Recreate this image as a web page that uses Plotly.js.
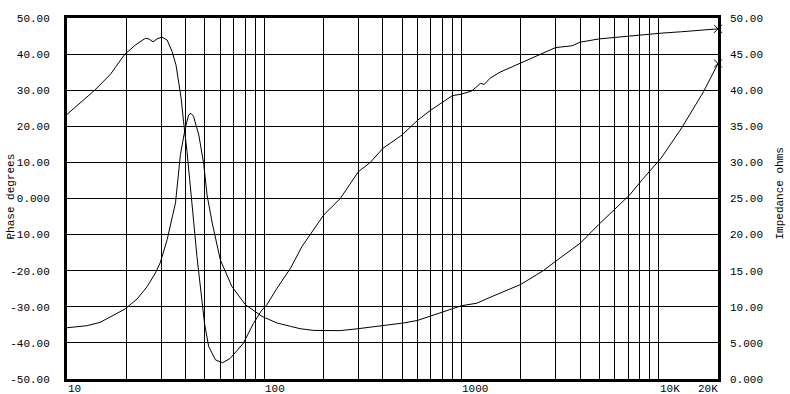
<!DOCTYPE html>
<html>
<head>
<meta charset="utf-8">
<script src="https://cdn.plot.ly/plotly-3.0.1.min.js"></script>
<style>html,body{margin:0;padding:0;background:#fff;}#chart{width:790px;height:394px;}</style>
</head>
<body>
<div id="chart"></div>
<script>
// Phase curve (left axis, degrees)
const phaseFreq = [10, 11.7, 13.7, 16.6, 19.6, 22.2, 25, 26, 27.3, 28.6, 30.3, 32.2, 34.1, 35.7, 36.8, 37.9, 39, 40.6, 43, 45.6, 48.3, 49.8, 52.3, 56.6, 61.5, 67.2, 78.4, 88.2, 97, 103, 116, 136, 155, 200, 243, 300, 345, 400, 500, 600, 700, 800, 900, 1000, 1128, 1198, 1247, 1306, 1395, 1570, 2000, 2500, 3000, 3636, 4000, 4970, 6100, 8250, 10300, 13100, 16900, 20000];
const phaseDeg = [23.3, 26.6, 29.8, 34.4, 39.9, 42.5, 44.4, 44.2, 43.4, 44.2, 44.7, 43.9, 40.7, 37.0, 32.4, 27.8, 21.3, 13.0, -1.3, -16.1, -28.1, -34.6, -41.0, -44.7, -45.5, -44.3, -40.1, -34.6, -31.0, -29.5, -24.9, -19.3, -13.4, -4.6, 0.0, 7.4, 10.0, 13.9, 17.6, 21.7, 24.5, 26.6, 28.5, 28.9, 29.8, 31.0, 31.9, 31.6, 33.3, 35.0, 37.6, 39.9, 41.8, 42.3, 43.3, 44.2, 44.7, 45.3, 45.8, 46.2, 46.6, 47.0];

// Impedance curve (right axis, ohms)
const impFreq = [10, 12.6, 14.7, 17.9, 19.7, 22.7, 25.5, 28.1, 29.7, 32.2, 34.1, 35.5, 37.6, 39.8, 41.4, 42.5, 43.8, 46.6, 49.4, 51.3, 54.5, 59.9, 68.6, 80.2, 97.5, 116, 136, 152, 178, 242, 300, 403, 509, 600, 707, 840, 1000, 1198, 1340, 2000, 2600, 3000, 4000, 4970, 6100, 7130, 8250, 10300, 13100, 16900, 20000];
const impOhm = [7.1, 7.38, 7.84, 9.14, 9.7, 11.1, 12.8, 14.7, 16.1, 19.3, 22.5, 24.4, 31.1, 34.8, 36.6, 36.8, 36.4, 33.8, 29.7, 25.5, 21.6, 16.5, 12.8, 10.3, 8.67, 7.76, 7.29, 6.97, 6.73, 6.7, 6.97, 7.42, 7.76, 8.12, 8.77, 9.46, 10.15, 10.5, 11.1, 13.1, 15.0, 16.3, 18.8, 21.4, 23.7, 25.5, 27.6, 30.6, 34.8, 39.8, 43.7];

// Tick labels
const xTickVals = [10, 100, 1000, 10000, 20000];
const xTickText = ['10', '100', '1000', '10K', '20K'];
const yLeftVals = [50, 40, 30, 20, 10, 0, -10, -20, -30, -40, -50];
const yLeftText = ['50.00', '40.00', '30.00', '20.00', '10.00', '0.000', '-10.00', '-20.00', '-30.00', '-40.00', '-50.00'];
const yRightVals = [50, 45, 40, 35, 30, 25, 20, 15, 10, 5, 0];
const yRightText = ['50.00', '45.00', '40.00', '35.00', '30.00', '25.00', '20.00', '15.00', '10.00', '5.000', '0.000'];

const FONT = 'Liberation Mono, DejaVu Sans Mono, monospace';
const FS = 11;

// log grid positions 1..9 per decade
const gridVals = [];
for (let d = 10; d <= 10000; d *= 10) {
  for (let m = 1; m <= 9; m++) { const v = d * m; if (v <= 20000) gridVals.push(v); }
}

const lineStyle = {color: '#000', width: 1};
const traces = [
  {x: phaseFreq, y: phaseDeg, type: 'scatter', mode: 'lines', line: lineStyle, yaxis: 'y', hoverinfo: 'skip'},
  {x: impFreq, y: impOhm, type: 'scatter', mode: 'lines', line: lineStyle, yaxis: 'y2', hoverinfo: 'skip'},
  {x: [phaseFreq[phaseFreq.length - 1]], y: [phaseDeg[phaseDeg.length - 1]], type: 'scatter', mode: 'markers', yaxis: 'y', cliponaxis: false,
   marker: {symbol: 'x-thin', size: 8, line: {color: '#000', width: 1}}, hoverinfo: 'skip'},
  {x: [impFreq[impFreq.length - 1]], y: [impOhm[impOhm.length - 1]], type: 'scatter', mode: 'markers', yaxis: 'y2', cliponaxis: false,
   marker: {symbol: 'x-thin', size: 8, line: {color: '#000', width: 1}}, hoverinfo: 'skip'}
];

const annotations = xTickVals.map((v, i) => ({
  x: Math.log10(v), y: 0, xref: 'x', yref: 'paper',
  text: xTickText[i], showarrow: false,
  xanchor: i === xTickVals.length - 1 ? 'right' : 'left', yanchor: 'middle',
  yshift: -10, xshift: i === xTickVals.length - 1 ? 2 : -1,
  font: {family: FONT, size: FS, color: '#000'}
}));
annotations.push({x: 0, y: 0.5, xref: 'paper', yref: 'paper', text: 'Phase degrees', textangle: -90,
  showarrow: false, xanchor: 'center', yanchor: 'middle', xshift: -57, yshift: 2, font: {family: FONT, size: FS, color: '#000'}});
annotations.push({x: 1, y: 0.5, xref: 'paper', yref: 'paper', text: 'Impedance ohms', textangle: -90,
  showarrow: false, xanchor: 'center', yanchor: 'middle', xshift: 61, yshift: 5, font: {family: FONT, size: FS, color: '#000'}});

const layout = {
  width: 790, height: 394,
  margin: {l: 67, r: 72, t: 18, b: 15},
  paper_bgcolor: '#fff', plot_bgcolor: '#fff',
  showlegend: false,
  font: {family: FONT, size: FS, color: '#000'},
  xaxis: {
    type: 'log', range: [1, Math.log10(20000)],
    tickvals: gridVals, showticklabels: false, ticks: '',
    showgrid: true, gridcolor: '#000', gridwidth: 1,
    showline: true, linecolor: '#000', linewidth: 3, mirror: true,
    zeroline: false, fixedrange: true
  },
  yaxis: {
    range: [-50, 50], tickvals: yLeftVals, ticktext: yLeftText, ticks: '',
    ticklabelstandoff: 12,
    showgrid: true, gridcolor: '#000', gridwidth: 1,
    showline: true, linecolor: '#000', linewidth: 3, mirror: true,
    zeroline: false, fixedrange: true,
    tickfont: {family: FONT, size: FS, color: '#000'}
  },
  yaxis2: {
    range: [0, 50], overlaying: 'y', side: 'right',
    tickvals: yRightVals, ticktext: yRightText, ticks: '',
    ticklabelstandoff: 11,
    showgrid: false, showline: false, zeroline: false, fixedrange: true,
    tickfont: {family: FONT, size: FS, color: '#000'}
  },
  annotations: annotations
};

Plotly.newPlot('chart', traces, layout, {staticPlot: true, displayModeBar: false});
</script>
</body>
</html>
